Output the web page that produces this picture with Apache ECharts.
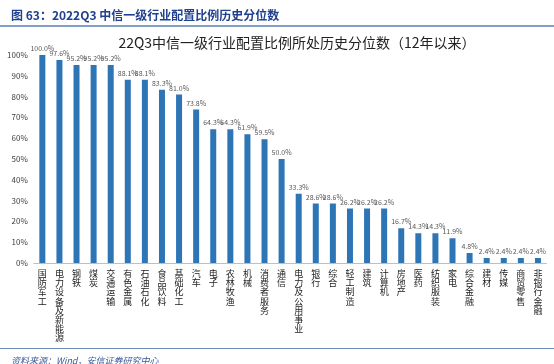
<!DOCTYPE html>
<html>
<head>
<meta charset="utf-8">
<script src="https://cdn.jsdelivr.net/npm/echarts@6/dist/echarts.min.js"></script>
<style>html,body{margin:0;padding:0;background:#fff;}#c{width:554px;height:364px;}</style>
</head>
<body>
<div id="c"></div>
<script>
const categories = ['国防军工','电力设备及新能源','钢铁','煤炭','交通运输','有色金属','石油石化','食品饮料','基础化工','汽车','电子','农林牧渔','机械','消费者服务','通信','电力及公用事业','银行','综合','轻工制造','建筑','计算机','房地产','医药','纺织服装','家电','综合金融','建材','传媒','商贸零售','非银行金融'];
const values = [100.0,97.6,95.2,95.2,95.2,88.1,88.1,83.3,81.0,73.8,64.3,64.3,61.9,59.5,50.0,33.3,28.6,28.6,26.2,26.2,26.2,16.7,14.3,14.3,11.9,4.8,2.4,2.4,2.4,2.4];
const yTicks = [0,10,20,30,40,50,60,70,80,90,100];
const headerText = '图 63：2022Q3 中信一级行业配置比例历史分位数';
const chartTitle = '22Q3中信一级行业配置比例所处历史分位数（12年以来）';
const sourceText = '资料来源：Wind，安信证券研究中心';

const chart = echarts.init(document.getElementById('c'), null, {renderer: 'canvas'});
const FONT = '"Noto Sans CJK SC", "Microsoft YaHei", sans-serif';
chart.setOption({
  animation: false,
  backgroundColor: '#fff',
  textStyle: {fontFamily: FONT},
  title: [
    {text: headerText, left: 6, top: 4, textStyle: {fontSize: 12, fontWeight: 'bold', color: '#1f3f8f', fontFamily: FONT}},
    {text: chartTitle, left: 292, textAlign: 'center', top: 31, textStyle: {fontSize: 14, fontWeight: 'normal', color: '#222', fontFamily: FONT}},
    {text: sourceText, left: 6, top: 351, textStyle: {fontSize: 9, fontStyle: 'italic', fontWeight: 'normal', color: '#3a5a9a', fontFamily: FONT}}
  ],
  graphic: [
    {type: 'line', shape: {x1: 0, y1: 26, x2: 554, y2: 26}, style: {stroke: '#5b7fb5', lineWidth: 1.5}},
    {type: 'line', shape: {x1: 0, y1: 348.5, x2: 554, y2: 348.5}, style: {stroke: '#6f8bbd', lineWidth: 1}}
  ],
  grid: {left: 33.8, right: 7.5, top: 55, bottom: 101, containLabel: false},
  xAxis: {
    type: 'category',
    data: categories,
    axisLine: {show: true, lineStyle: {color: '#bfbfbf', width: 1}},
    axisTick: {show: false},
    axisLabel: {
      interval: 0,
      fontSize: 9,
      lineHeight: 9.2,
      color: '#222',
      margin: 6,
      verticalAlign: 'top',
      formatter: v => v.split('').join('\n')
    }
  },
  yAxis: {
    type: 'value',
    min: 0, max: 100, interval: 10,
    splitLine: {show: false},
    axisLine: {show: false},
    axisTick: {show: false},
    axisLabel: {fontSize: 8, color: '#404040', margin: 6, formatter: v => v + '%'}
  },
  series: [{
    type: 'bar',
    data: values,
    barWidth: 6,
    itemStyle: {color: '#2e75b6'},
    label: {show: true, position: 'top', distance: 3, fontSize: 7, color: '#595959', formatter: p => p.value.toFixed(1) + '%'}
  }]
});
</script>
</body>
</html>
